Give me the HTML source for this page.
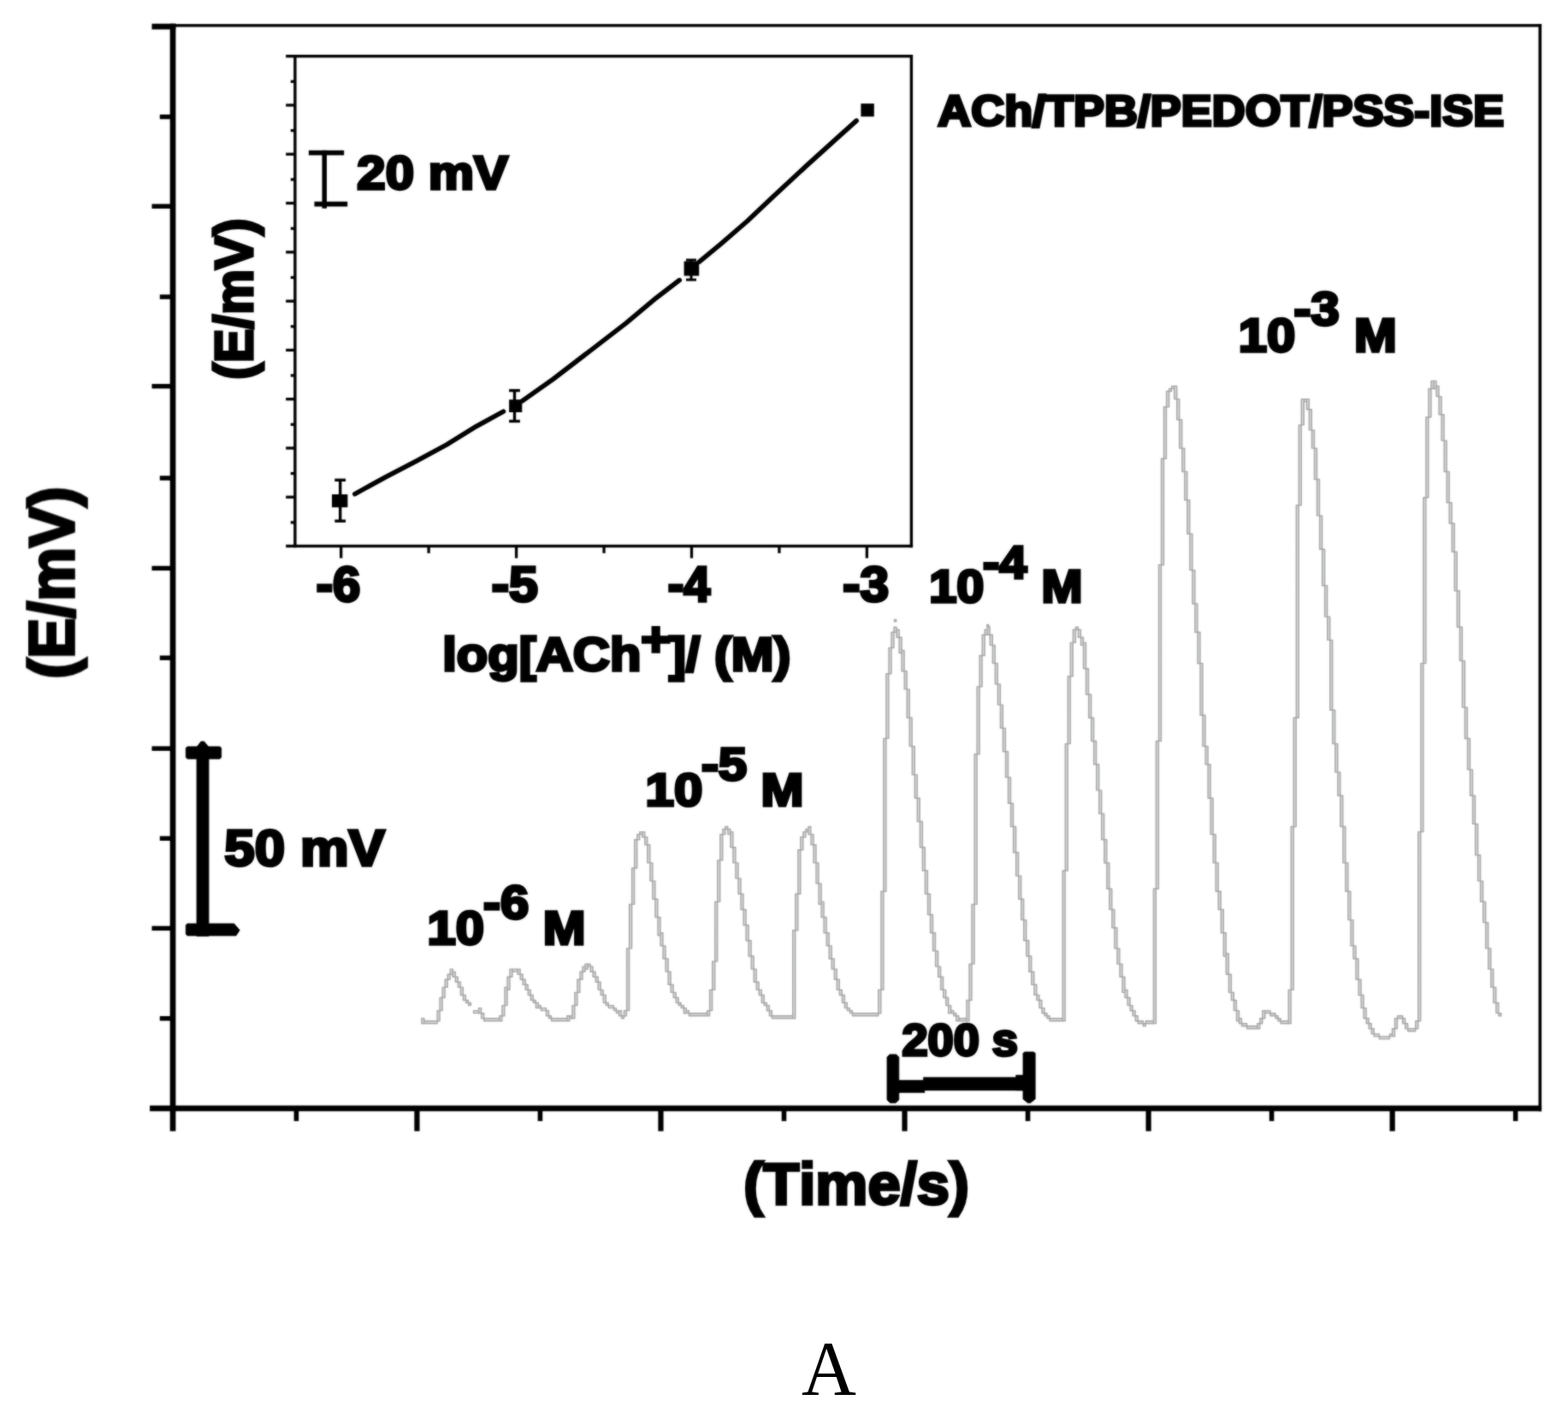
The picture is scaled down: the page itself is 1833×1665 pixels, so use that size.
<!DOCTYPE html>
<html lang="en">
<head>
<meta charset="utf-8">
<title>ACh/TPB/PEDOT/PSS-ISE potentiometric response</title>
<style>
html,body{margin:0;padding:0;background:#fff;}
body{width:1833px;height:1665px;overflow:hidden;}
svg{display:block;}
text{fill:#000;font-kerning:none;white-space:pre;stroke:#000;stroke-width:3.4px;stroke-linejoin:miter;}
.s{stroke:none;}
.b{font-family:"Liberation Sans",sans-serif;font-weight:bold;}
.s{font-family:"Liberation Serif",serif;}
</style>
</head>
<body>
<svg width="1833" height="1665" viewBox="0 0 1833 1665">
<defs><filter id="soft" x="0" y="0" width="1833" height="1665" filterUnits="userSpaceOnUse" color-interpolation-filters="sRGB"><feGaussianBlur stdDeviation="0.8" result="b"/><feComposite in="SourceGraphic" in2="b" operator="arithmetic" k1="0" k2="0.45" k3="0.55" k4="0"/></filter></defs>
<rect x="0" y="0" width="1833" height="1665" fill="#fff"/>
<g filter="url(#soft)">
<path d="M492.9 1190.7h3.0v6.1h-3.0zM495.9 1193.7h15.2v3.0h-15.2zM511.1 1181.6h3.0v12.1h-3.0zM514.1 1166.5h3.0v15.1h-3.0zM517.2 1154.4h3.0v12.1h-3.0zM520.2 1145.3h3.0v9.1h-3.0zM523.2 1139.2h3.0v6.1h-3.0zM526.3 1133.1h3.0v6.1h-3.0zM529.3 1136.2h3.0v6.1h-3.0zM532.3 1142.2h3.0v6.1h-3.0zM535.4 1148.3h3.0v6.1h-3.0zM538.4 1154.4h3.0v9.1h-3.0zM541.4 1163.4h3.0v6.1h-3.0zM544.5 1169.5h3.0v3.0h-3.0zM547.5 1172.5h3.0v3.0h-3.0zM553.6 1181.6h6.1v3.0h-6.1zM559.6 1178.6h3.0v6.1h-3.0zM562.7 1184.7h3.0v6.1h-3.0zM565.7 1190.7h18.2v3.0h-18.2zM583.9 1187.7h3.0v6.1h-3.0zM586.9 1175.6h3.0v12.1h-3.0zM590.0 1154.4h3.0v21.2h-3.0zM593.0 1142.2h3.0v15.1h-3.0zM596.0 1133.1h3.0v9.1h-3.0zM599.1 1133.1h6.1v3.0h-6.1zM605.1 1133.1h3.0v6.1h-3.0zM608.2 1139.2h3.0v6.1h-3.0zM611.2 1145.3h3.0v6.1h-3.0zM614.2 1151.3h3.0v6.1h-3.0zM617.3 1157.4h3.0v6.1h-3.0zM620.3 1163.4h3.0v6.1h-3.0zM623.3 1169.5h3.0v3.0h-3.0zM626.4 1172.5h3.0v6.1h-3.0zM629.4 1175.6h3.0v3.0h-3.0zM632.4 1178.6h6.1v3.0h-6.1zM638.5 1181.6h3.0v6.1h-3.0zM641.6 1187.7h3.0v3.0h-3.0zM644.6 1190.7h18.2v3.0h-18.2zM662.8 1187.7h3.0v6.1h-3.0zM665.8 1187.7h3.0v3.0h-3.0zM668.9 1175.6h3.0v15.1h-3.0zM671.9 1160.4h3.0v15.1h-3.0zM674.9 1145.3h3.0v15.1h-3.0zM678.0 1136.2h3.0v9.1h-3.0zM681.0 1130.1h3.0v6.1h-3.0zM684.0 1127.1h3.0v6.1h-3.0zM687.1 1127.1h3.0v3.0h-3.0zM690.1 1130.1h3.0v6.1h-3.0zM693.1 1136.2h3.0v6.1h-3.0zM696.2 1142.2h3.0v6.1h-3.0zM699.2 1148.3h3.0v9.1h-3.0zM702.2 1157.4h3.0v6.1h-3.0zM705.3 1163.4h3.0v9.1h-3.0zM708.3 1172.5h3.0v3.0h-3.0zM711.3 1175.6h6.1v3.0h-6.1zM717.4 1178.6h3.0v3.0h-3.0zM720.4 1181.6h3.0v3.0h-3.0zM723.5 1181.6h3.0v6.1h-3.0zM726.5 1187.7h3.0v3.0h-3.0zM729.5 1181.6h3.0v6.1h-3.0zM732.6 1108.9h3.0v72.7h-3.0zM735.6 1057.4h3.0v51.5h-3.0zM738.6 1015.0h3.0v42.4h-3.0zM741.7 981.7h3.0v33.3h-3.0zM744.7 975.6h3.0v6.1h-3.0zM747.7 972.6h3.0v3.0h-3.0zM750.8 972.6h3.0v6.1h-3.0zM753.8 978.6h3.0v9.1h-3.0zM756.8 987.7h3.0v21.2h-3.0zM759.9 1008.9h3.0v21.2h-3.0zM762.9 1030.1h3.0v21.2h-3.0zM765.9 1051.3h3.0v21.2h-3.0zM769.0 1072.5h3.0v21.2h-3.0zM772.0 1090.7h3.0v15.1h-3.0zM775.0 1105.9h3.0v15.1h-3.0zM778.1 1121.0h3.0v15.1h-3.0zM781.1 1136.2h3.0v15.1h-3.0zM784.1 1151.3h3.0v9.1h-3.0zM787.2 1160.4h3.0v6.1h-3.0zM790.2 1166.5h3.0v6.1h-3.0zM793.2 1172.5h3.0v3.0h-3.0zM796.3 1175.6h3.0v3.0h-3.0zM799.3 1178.6h3.0v6.1h-3.0zM802.3 1181.6h3.0v3.0h-3.0zM805.4 1184.7h21.2v3.0h-21.2zM826.6 1181.6h3.0v6.1h-3.0zM829.6 1157.4h3.0v24.2h-3.0zM832.7 1124.1h3.0v33.3h-3.0zM835.7 1054.4h3.0v69.7h-3.0zM838.7 1005.9h3.0v48.5h-3.0zM841.8 975.6h3.0v30.3h-3.0zM844.8 969.5h3.0v6.1h-3.0zM847.8 966.5h3.0v3.0h-3.0zM850.9 969.5h3.0v6.1h-3.0zM853.9 972.6h3.0v18.2h-3.0zM856.9 990.7h3.0v18.2h-3.0zM860.0 1008.9h3.0v18.2h-3.0zM863.0 1027.1h3.0v18.2h-3.0zM866.0 1045.3h3.0v18.2h-3.0zM869.1 1063.5h3.0v18.2h-3.0zM872.1 1081.6h3.0v18.2h-3.0zM875.1 1099.8h3.0v18.2h-3.0zM878.2 1118.0h3.0v15.1h-3.0zM881.2 1133.1h3.0v15.1h-3.0zM884.2 1148.3h3.0v9.1h-3.0zM887.3 1157.4h3.0v6.1h-3.0zM890.3 1163.4h3.0v9.1h-3.0zM893.3 1172.5h3.0v3.0h-3.0zM896.4 1175.6h3.0v6.1h-3.0zM899.4 1181.6h3.0v6.1h-3.0zM902.4 1187.7h24.3v3.0h-24.3zM926.7 1087.7h3.0v103.0h-3.0zM929.8 1045.3h3.0v42.4h-3.0zM932.8 993.8h3.0v51.5h-3.0zM935.8 978.6h3.0v15.1h-3.0zM938.9 972.6h3.0v6.1h-3.0zM941.9 969.5h3.0v3.0h-3.0zM944.9 966.5h3.0v9.1h-3.0zM948.0 975.6h3.0v12.1h-3.0zM951.0 987.7h3.0v21.2h-3.0zM954.0 1008.9h3.0v24.2h-3.0zM957.1 1033.2h3.0v24.2h-3.0zM960.1 1054.4h3.0v18.2h-3.0zM963.1 1072.5h3.0v18.2h-3.0zM966.2 1090.7h3.0v15.1h-3.0zM969.2 1105.9h3.0v15.1h-3.0zM972.2 1121.0h3.0v12.1h-3.0zM975.3 1133.1h3.0v12.1h-3.0zM978.3 1145.3h3.0v12.1h-3.0zM981.3 1157.4h3.0v6.1h-3.0zM984.4 1163.4h3.0v9.1h-3.0zM987.4 1172.5h3.0v6.1h-3.0zM990.4 1178.6h3.0v3.0h-3.0zM993.5 1181.6h3.0v3.0h-3.0zM996.5 1184.7h30.3v3.0h-30.3zM1026.8 1157.4h3.0v27.3h-3.0zM1029.9 1042.3h3.0v115.1h-3.0zM1032.9 863.5h3.0v178.8h-3.0zM1035.9 787.7h3.0v75.7h-3.0zM1039.0 757.4h3.0v30.3h-3.0zM1042.0 739.3h3.0v18.2h-3.0zM1045.0 733.2h3.0v6.1h-3.0zM1048.1 736.2h3.0v9.1h-3.0zM1051.1 745.3h3.0v18.2h-3.0zM1054.1 760.5h3.0v24.2h-3.0zM1057.2 784.7h3.0v21.2h-3.0zM1060.2 805.9h3.0v33.3h-3.0zM1063.2 839.3h3.0v33.3h-3.0zM1066.3 872.6h3.0v33.3h-3.0zM1069.3 905.9h3.0v27.3h-3.0zM1072.3 933.2h3.0v27.3h-3.0zM1075.4 960.4h3.0v30.3h-3.0zM1078.4 990.7h3.0v27.3h-3.0zM1081.4 1018.0h3.0v27.3h-3.0zM1084.5 1045.3h3.0v24.2h-3.0zM1087.5 1069.5h3.0v21.2h-3.0zM1090.5 1090.7h3.0v21.2h-3.0zM1093.6 1111.9h3.0v18.2h-3.0zM1096.6 1130.1h3.0v12.1h-3.0zM1099.6 1142.2h3.0v15.1h-3.0zM1102.7 1157.4h3.0v9.1h-3.0zM1105.7 1166.5h3.0v9.1h-3.0zM1108.7 1175.6h3.0v9.1h-3.0zM1111.8 1181.6h3.0v3.0h-3.0zM1114.8 1184.7h3.0v3.0h-3.0zM1117.8 1187.7h3.0v6.1h-3.0zM1120.9 1190.7h9.1v3.0h-9.1zM1130.0 1169.5h3.0v24.2h-3.0zM1133.0 1127.1h3.0v42.4h-3.0zM1136.0 1057.4h3.0v69.7h-3.0zM1139.1 881.7h3.0v175.7h-3.0zM1142.1 802.9h3.0v78.8h-3.0zM1145.1 766.5h3.0v36.4h-3.0zM1148.2 742.3h3.0v24.2h-3.0zM1151.2 736.2h3.0v6.1h-3.0zM1154.2 733.2h3.0v9.1h-3.0zM1157.3 742.3h3.0v12.1h-3.0zM1160.3 754.4h3.0v21.2h-3.0zM1163.3 775.6h3.0v24.2h-3.0zM1166.4 799.9h3.0v24.2h-3.0zM1169.4 824.1h3.0v27.3h-3.0zM1172.4 851.4h3.0v27.3h-3.0zM1175.5 878.6h3.0v30.3h-3.0zM1178.5 908.9h3.0v30.3h-3.0zM1181.5 939.2h3.0v27.3h-3.0zM1184.6 966.5h3.0v30.3h-3.0zM1187.6 996.8h3.0v27.3h-3.0zM1190.7 1024.1h3.0v27.3h-3.0zM1193.7 1051.3h3.0v24.2h-3.0zM1196.7 1075.6h3.0v24.2h-3.0zM1199.8 1099.8h3.0v18.2h-3.0zM1202.8 1118.0h3.0v18.2h-3.0zM1205.8 1136.2h3.0v15.1h-3.0zM1208.9 1151.3h3.0v12.1h-3.0zM1211.9 1163.4h3.0v6.1h-3.0zM1214.9 1169.5h3.0v9.1h-3.0zM1218.0 1178.6h3.0v6.1h-3.0zM1221.0 1184.7h3.0v3.0h-3.0zM1224.0 1187.7h3.0v3.0h-3.0zM1227.1 1190.7h15.2v3.0h-15.2zM1242.2 1018.0h3.0v175.7h-3.0zM1245.3 869.6h3.0v148.5h-3.0zM1248.3 790.8h3.0v78.8h-3.0zM1251.3 751.4h3.0v39.4h-3.0zM1254.4 736.2h3.0v15.1h-3.0zM1257.4 733.2h3.0v3.0h-3.0zM1260.4 736.2h3.0v9.1h-3.0zM1263.5 745.3h3.0v9.1h-3.0zM1266.5 751.4h3.0v30.3h-3.0zM1269.5 781.7h3.0v30.3h-3.0zM1272.6 812.0h3.0v27.3h-3.0zM1275.6 839.3h3.0v27.3h-3.0zM1278.6 866.5h3.0v27.3h-3.0zM1281.7 893.8h3.0v30.3h-3.0zM1284.7 924.1h3.0v27.3h-3.0zM1287.7 951.4h3.0v30.3h-3.0zM1290.8 981.7h3.0v27.3h-3.0zM1293.8 1008.9h3.0v30.3h-3.0zM1296.8 1039.2h3.0v24.2h-3.0zM1299.9 1063.5h3.0v21.2h-3.0zM1302.9 1084.7h3.0v24.2h-3.0zM1305.9 1108.9h3.0v18.2h-3.0zM1309.0 1127.1h3.0v15.1h-3.0zM1312.0 1142.2h3.0v18.2h-3.0zM1315.0 1157.4h3.0v9.1h-3.0zM1318.1 1166.5h3.0v9.1h-3.0zM1321.1 1175.6h3.0v6.1h-3.0zM1324.1 1181.6h3.0v6.1h-3.0zM1327.2 1187.7h3.0v6.1h-3.0zM1330.2 1193.7h6.1v3.0h-6.1zM1336.3 1196.8h3.0v3.0h-3.0zM1339.3 1193.7h9.1v3.0h-9.1zM1348.4 1039.2h3.0v157.5h-3.0zM1351.4 866.5h3.0v172.7h-3.0zM1354.5 660.5h3.0v206.0h-3.0zM1357.5 536.3h3.0v124.2h-3.0zM1360.5 475.7h3.0v60.6h-3.0zM1363.6 457.5h3.0v18.2h-3.0zM1366.6 454.5h3.0v3.0h-3.0zM1369.6 451.4h3.0v3.0h-3.0zM1372.7 451.4h3.0v15.1h-3.0zM1375.7 466.6h3.0v24.2h-3.0zM1378.7 490.8h3.0v33.3h-3.0zM1381.8 524.2h3.0v27.3h-3.0zM1384.8 551.4h3.0v33.3h-3.0zM1387.8 584.8h3.0v39.4h-3.0zM1390.9 624.1h3.0v42.4h-3.0zM1393.9 666.6h3.0v39.4h-3.0zM1396.9 705.9h3.0v33.3h-3.0zM1400.0 739.3h3.0v36.4h-3.0zM1403.0 775.6h3.0v60.6h-3.0zM1406.0 836.2h3.0v36.4h-3.0zM1409.1 872.6h3.0v21.2h-3.0zM1412.1 893.8h3.0v39.4h-3.0zM1415.1 933.2h3.0v42.4h-3.0zM1418.2 975.6h3.0v33.3h-3.0zM1421.2 1008.9h3.0v33.3h-3.0zM1424.2 1042.3h3.0v21.2h-3.0zM1427.3 1063.5h3.0v27.3h-3.0zM1430.3 1090.7h3.0v27.3h-3.0zM1433.3 1115.0h3.0v24.2h-3.0zM1436.4 1139.2h3.0v21.2h-3.0zM1439.4 1160.4h3.0v9.1h-3.0zM1442.4 1169.5h3.0v12.1h-3.0zM1445.5 1181.6h3.0v12.1h-3.0zM1448.5 1190.7h3.0v6.1h-3.0zM1451.5 1196.8h6.1v3.0h-6.1zM1457.6 1199.8h12.1v3.0h-12.1zM1469.8 1196.8h3.0v6.1h-3.0zM1472.8 1190.7h3.0v6.1h-3.0zM1475.8 1181.6h3.0v9.1h-3.0zM1478.9 1181.6h6.1v3.0h-6.1zM1484.9 1184.7h6.1v3.0h-6.1zM1491.0 1187.7h3.0v3.0h-3.0zM1494.0 1190.7h3.0v3.0h-3.0zM1497.1 1193.7h9.1v3.0h-9.1zM1506.2 1157.4h3.0v39.4h-3.0zM1509.2 966.5h3.0v190.9h-3.0zM1512.2 839.3h3.0v127.3h-3.0zM1515.3 590.8h3.0v248.4h-3.0zM1518.3 496.9h3.0v93.9h-3.0zM1521.3 466.6h3.0v30.3h-3.0zM1524.4 466.6h3.0v3.0h-3.0zM1527.4 466.6h3.0v12.1h-3.0zM1530.4 478.7h3.0v24.2h-3.0zM1533.5 502.9h3.0v21.2h-3.0zM1536.5 524.2h3.0v36.4h-3.0zM1539.5 560.5h3.0v42.4h-3.0zM1542.6 602.9h3.0v39.4h-3.0zM1545.6 642.3h3.0v42.4h-3.0zM1548.6 684.7h3.0v36.4h-3.0zM1551.7 721.1h3.0v27.3h-3.0zM1554.7 748.4h3.0v81.8h-3.0zM1557.7 830.2h3.0v39.4h-3.0zM1560.8 869.6h3.0v33.3h-3.0zM1563.8 902.9h3.0v27.3h-3.0zM1566.8 930.1h3.0v36.4h-3.0zM1569.9 966.5h3.0v42.4h-3.0zM1572.9 1008.9h3.0v33.3h-3.0zM1575.9 1042.3h3.0v33.3h-3.0zM1579.0 1075.6h3.0v30.3h-3.0zM1582.0 1105.9h3.0v15.1h-3.0zM1585.0 1121.0h3.0v24.2h-3.0zM1588.1 1145.3h3.0v18.2h-3.0zM1591.1 1163.4h3.0v15.1h-3.0zM1594.1 1178.6h3.0v12.1h-3.0zM1597.2 1190.7h3.0v6.1h-3.0zM1600.2 1196.8h3.0v6.1h-3.0zM1603.2 1202.8h3.0v6.1h-3.0zM1606.3 1208.9h6.1v3.0h-6.1zM1612.3 1211.9h12.1v3.0h-12.1zM1624.5 1208.9h3.0v3.0h-3.0zM1627.5 1202.8h3.0v9.1h-3.0zM1630.5 1190.7h3.0v12.1h-3.0zM1633.6 1187.7h6.1v3.0h-6.1zM1639.6 1190.7h3.0v6.1h-3.0zM1642.7 1196.8h3.0v6.1h-3.0zM1645.7 1202.8h9.1v3.0h-9.1zM1654.8 1193.7h3.0v9.1h-3.0zM1657.8 972.6h3.0v221.2h-3.0zM1660.9 775.6h3.0v196.9h-3.0zM1663.9 581.7h3.0v193.9h-3.0zM1666.9 487.8h3.0v93.9h-3.0zM1670.0 454.5h3.0v33.3h-3.0zM1673.0 445.4h3.0v9.1h-3.0zM1676.0 445.4h3.0v9.1h-3.0zM1679.1 451.4h3.0v12.1h-3.0zM1682.1 463.6h3.0v21.2h-3.0zM1685.1 484.8h3.0v30.3h-3.0zM1688.2 515.1h3.0v36.4h-3.0zM1691.2 551.4h3.0v36.4h-3.0zM1694.2 587.8h3.0v24.2h-3.0zM1697.3 612.0h3.0v33.3h-3.0zM1700.3 645.3h3.0v45.4h-3.0zM1703.3 690.8h3.0v42.4h-3.0zM1706.4 733.2h3.0v39.4h-3.0zM1709.4 772.6h3.0v54.5h-3.0zM1712.4 827.1h3.0v36.4h-3.0zM1715.5 863.5h3.0v36.4h-3.0zM1718.5 899.9h3.0v30.3h-3.0zM1721.5 930.1h3.0v33.3h-3.0zM1724.6 963.5h3.0v36.4h-3.0zM1727.6 999.8h3.0v30.3h-3.0zM1730.6 1030.1h3.0v24.2h-3.0zM1733.7 1054.4h3.0v24.2h-3.0zM1736.7 1078.6h3.0v30.3h-3.0zM1739.8 1108.9h3.0v24.2h-3.0zM1742.8 1133.1h3.0v21.2h-3.0zM1745.8 1154.4h3.0v18.2h-3.0zM1748.9 1172.5h3.0v12.1h-3.0zM1751.9 1184.7h3.0v3.0h-3.0zM1045.5 724.5h2.2v2.2h-2.2zM1153.7 730.5h2.2v2.2h-2.2z" fill="#d4d6d6" stroke="#a6a6a6" stroke-width="1.4" stroke-linejoin="round"/>
<rect x="198.70" y="27.70" width="6.70" height="1294.90" fill="#000"/>
<rect x="175.10" y="1292.60" width="1627.00" height="6.70" fill="#000"/>
<rect x="177.50" y="27.70" width="27.90" height="6.70" fill="#000"/>
<rect x="201.80" y="28.10" width="1600.30" height="3.40" fill="#000"/>
<rect x="1798.50" y="28.10" width="3.60" height="1271.20" fill="#000"/>
<rect x="177.50" y="238.50" width="24.70" height="5.40" fill="#000"/>
<rect x="177.50" y="448.90" width="24.70" height="5.40" fill="#000"/>
<rect x="177.50" y="661.70" width="24.70" height="5.40" fill="#000"/>
<rect x="177.50" y="872.50" width="24.70" height="5.40" fill="#000"/>
<rect x="177.50" y="1082.70" width="24.70" height="5.40" fill="#000"/>
<rect x="186.80" y="133.90" width="15.40" height="5.40" fill="#000"/>
<rect x="186.80" y="344.40" width="15.40" height="5.40" fill="#000"/>
<rect x="186.80" y="556.30" width="15.40" height="5.40" fill="#000"/>
<rect x="186.80" y="766.50" width="15.40" height="5.40" fill="#000"/>
<rect x="186.80" y="977.60" width="15.40" height="5.40" fill="#000"/>
<rect x="186.80" y="1188.10" width="15.40" height="5.40" fill="#000"/>
<rect x="484.35" y="1295.80" width="6.20" height="26.80" fill="#000"/>
<rect x="769.40" y="1295.80" width="6.20" height="26.80" fill="#000"/>
<rect x="1054.45" y="1295.80" width="6.20" height="26.80" fill="#000"/>
<rect x="1339.50" y="1295.80" width="6.20" height="26.80" fill="#000"/>
<rect x="1624.55" y="1295.80" width="6.20" height="26.80" fill="#000"/>
<rect x="343.60" y="1295.80" width="5.60" height="15.00" fill="#000"/>
<rect x="628.65" y="1295.80" width="5.60" height="15.00" fill="#000"/>
<rect x="913.70" y="1295.80" width="5.60" height="15.00" fill="#000"/>
<rect x="1198.75" y="1295.80" width="5.60" height="15.00" fill="#000"/>
<rect x="1483.80" y="1295.80" width="5.60" height="15.00" fill="#000"/>
<rect x="1768.85" y="1295.80" width="5.60" height="15.00" fill="#000"/>
<rect x="343.20" y="64.00" width="3.40" height="576.20" fill="#000"/>
<rect x="334.20" y="636.80" width="732.90" height="3.40" fill="#000"/>
<rect x="334.20" y="64.00" width="732.90" height="3.40" fill="#000"/>
<rect x="1063.70" y="64.00" width="3.40" height="576.20" fill="#000"/>
<rect x="334.20" y="121.33" width="10.00" height="3.30" fill="#000"/>
<rect x="334.20" y="178.61" width="10.00" height="3.30" fill="#000"/>
<rect x="334.20" y="235.89" width="10.00" height="3.30" fill="#000"/>
<rect x="334.20" y="293.17" width="10.00" height="3.30" fill="#000"/>
<rect x="334.20" y="350.45" width="10.00" height="3.30" fill="#000"/>
<rect x="334.20" y="407.73" width="10.00" height="3.30" fill="#000"/>
<rect x="334.20" y="465.01" width="10.00" height="3.30" fill="#000"/>
<rect x="334.20" y="522.29" width="10.00" height="3.30" fill="#000"/>
<rect x="334.20" y="579.57" width="10.00" height="3.30" fill="#000"/>
<rect x="339.80" y="93.69" width="4.40" height="3.30" fill="#000"/>
<rect x="339.80" y="150.97" width="4.40" height="3.30" fill="#000"/>
<rect x="339.80" y="208.25" width="4.40" height="3.30" fill="#000"/>
<rect x="339.80" y="265.53" width="4.40" height="3.30" fill="#000"/>
<rect x="339.80" y="322.81" width="4.40" height="3.30" fill="#000"/>
<rect x="339.80" y="380.09" width="4.40" height="3.30" fill="#000"/>
<rect x="339.80" y="437.37" width="4.40" height="3.30" fill="#000"/>
<rect x="339.80" y="494.65" width="4.40" height="3.30" fill="#000"/>
<rect x="339.80" y="551.93" width="4.40" height="3.30" fill="#000"/>
<rect x="339.80" y="609.21" width="4.40" height="3.30" fill="#000"/>
<rect x="397.05" y="637.80" width="3.30" height="14.80" fill="#000"/>
<rect x="601.95" y="637.80" width="3.30" height="14.80" fill="#000"/>
<rect x="806.85" y="637.80" width="3.30" height="14.80" fill="#000"/>
<rect x="1011.75" y="637.80" width="3.30" height="14.80" fill="#000"/>
<rect x="499.50" y="637.80" width="3.30" height="9.00" fill="#000"/>
<rect x="704.40" y="637.80" width="3.30" height="9.00" fill="#000"/>
<rect x="909.30" y="637.80" width="3.30" height="9.00" fill="#000"/>
<polyline fill="none" stroke="#000" stroke-width="5.6" stroke-linecap="round" stroke-linejoin="round" points="414.8,577.6 450.9,557.7 486.4,539.3 521.8,520.1 557.3,498.2 588.5,481.1"/>
<polyline fill="none" stroke="#000" stroke-width="5.6" stroke-linecap="round" stroke-linejoin="round" points="610.6,468.7 646.7,443.2 689.3,410.6 731.8,377.9 767.3,348.2 794.3,327.6"/>
<polyline fill="none" stroke="#000" stroke-width="5.6" stroke-linecap="round" stroke-linejoin="round" points="817.4,306.1 841.9,285.9 873.6,258.5 902.4,231.2 941.3,195.1 980.3,159.8 1001.2,141.1"/>
<rect x="396.00" y="561.10" width="3.40" height="48.30" fill="#000"/>
<rect x="391.30" y="559.60" width="12.80" height="3.40" fill="#000"/>
<rect x="391.30" y="607.50" width="12.80" height="3.40" fill="#000"/>
<rect x="599.80" y="456.40" width="3.40" height="36.30" fill="#000"/>
<rect x="595.10" y="454.90" width="12.80" height="3.40" fill="#000"/>
<rect x="595.10" y="490.80" width="12.80" height="3.40" fill="#000"/>
<rect x="806.50" y="303.80" width="3.00" height="23.50" fill="#000"/>
<rect x="802.00" y="302.50" width="12.00" height="3.00" fill="#000"/>
<rect x="802.00" y="325.60" width="12.00" height="3.00" fill="#000"/>
<rect x="388.00" y="578.00" width="18.40" height="15.20" fill="#000"/>
<rect x="595.10" y="467.20" width="15.20" height="14.80" fill="#000"/>
<rect x="799.60" y="305.50" width="17.60" height="17.00" fill="#000"/>
<rect x="1006.40" y="121.10" width="15.40" height="15.20" fill="#000"/>
<rect x="360.90" y="175.80" width="41.30" height="5.70" fill="#000"/>
<rect x="376.50" y="175.80" width="5.50" height="67.90" fill="#000"/>
<rect x="367.50" y="235.70" width="38.70" height="5.80" fill="#000"/>
<polygon fill="#000" stroke="#000" stroke-width="0.8" stroke-linejoin="round" points="230.0,1094.6 230.0,873.5 235.0,867.0 238.6,867.0 244.0,873.5 244.0,1094.6"/>
<polygon fill="#000" stroke="#000" stroke-width="0.8" stroke-linejoin="round" points="217.3,874.6 219.0,873.0 257.0,873.0 258.7,874.6 258.7,885.6 257.0,887.2 219.0,887.2 217.3,885.6"/>
<polygon fill="#000" stroke="#000" stroke-width="0.8" stroke-linejoin="round" points="217.3,1081.6 219.0,1080.0 273.6,1080.0 280.2,1087.6 276.0,1094.0 219.0,1094.0 217.3,1092.4"/>
<polygon fill="#000" stroke="#000" stroke-width="0.8" stroke-linejoin="round" points="1037.0,1236.0 1040.0,1232.9 1047.6,1232.9 1050.8,1236.0 1050.8,1286.0 1047.0,1289.6 1040.6,1289.6 1037.0,1286.0"/>
<polygon fill="#000" stroke="#000" stroke-width="0.8" stroke-linejoin="round" points="1196.0,1231.6 1197.6,1230.0 1208.6,1230.0 1210.2,1231.6 1210.2,1285.0 1204.6,1289.6 1201.4,1289.6 1196.0,1285.0"/>
<rect x="1044.80" y="1262.80" width="36.40" height="15.00" fill="#000"/>
<rect x="1079.20" y="1259.40" width="121.00" height="15.80" fill="#000"/>
<rect x="1187.30" y="1256.80" width="12.90" height="18.40" fill="#000"/>
<text class="b" font-size="50.34" transform="translate(1096.35 146.79) scale(1.0708 1)">ACh/TPB/PEDOT/PSS-ISE</text>
<text class="b" font-size="55.07" transform="translate(417.30 221.35) scale(1.0889 1)">20 mV</text>
<text class="b" font-size="56.60" transform="translate(369.68 702.70) scale(1.0252 1)">-6</text>
<text class="b" font-size="56.60" transform="translate(574.67 702.70) scale(1.0752 1)">-5</text>
<text class="b" font-size="56.60" transform="translate(780.78 702.70) scale(0.9827 1)">-4</text>
<text class="b" font-size="56.60" transform="translate(985.28 702.70) scale(1.0688 1)">-3</text>
<text class="b" font-size="55.53" transform="translate(517.22 783.96) scale(1.0760 1)"><tspan x="0" y="0">log[ACh</tspan><tspan x="215.76" y="-17.76">+</tspan><tspan x="245.98" y="0">]/ (M)</tspan></text>
<text class="b" font-size="74.55" transform="translate(86.05 793.64) rotate(-90) scale(0.9511 1)">(E/mV)</text>
<text class="b" font-size="63.74" transform="translate(295.01 443.98) rotate(-90) scale(0.9346 1)">(E/mV)</text>
<text class="b" font-size="67.81" transform="translate(869.36 1408.46) scale(1.0136 1)">(Time/s)</text>
<text class="b" font-size="60.14" transform="translate(262.29 1011.70) scale(1.0599 1)">50 mV</text>
<text class="b" font-size="51.27" transform="translate(1054.40 1233.79) scale(1.0569 1)">200 s</text>
<text class="b" font-size="55.07" transform="translate(499.41 1104.15) scale(1.0859 1)" xml:space="preserve"><tspan x="0" y="0">10</tspan><tspan x="60.42" y="-30.10">-6</tspan><tspan x="109.37" y="0"> M</tspan></text>
<text class="b" font-size="54.51" transform="translate(754.60 942.05) scale(1.1008 1)" xml:space="preserve"><tspan x="0" y="0">10</tspan><tspan x="59.31" y="-30.31">-5</tspan><tspan x="107.38" y="0"> M</tspan></text>
<text class="b" font-size="53.52" transform="translate(1086.16 704.16) scale(1.0764 1)" xml:space="preserve"><tspan x="0" y="0">10</tspan><tspan x="58.36" y="-28.66">-4</tspan><tspan x="107.07" y="0"> M</tspan></text>
<text class="b" font-size="55.49" transform="translate(1447.71 410.95) scale(1.0776 1)" xml:space="preserve"><tspan x="0" y="0">10</tspan><tspan x="60.22" y="-30.79">-3</tspan><tspan x="110.08" y="0"> M</tspan></text>
</g>
<text class="s" font-size="90.08" transform="translate(937.11 1631.00) scale(0.9826 1)">A</text>
</svg>
</body>
</html>
